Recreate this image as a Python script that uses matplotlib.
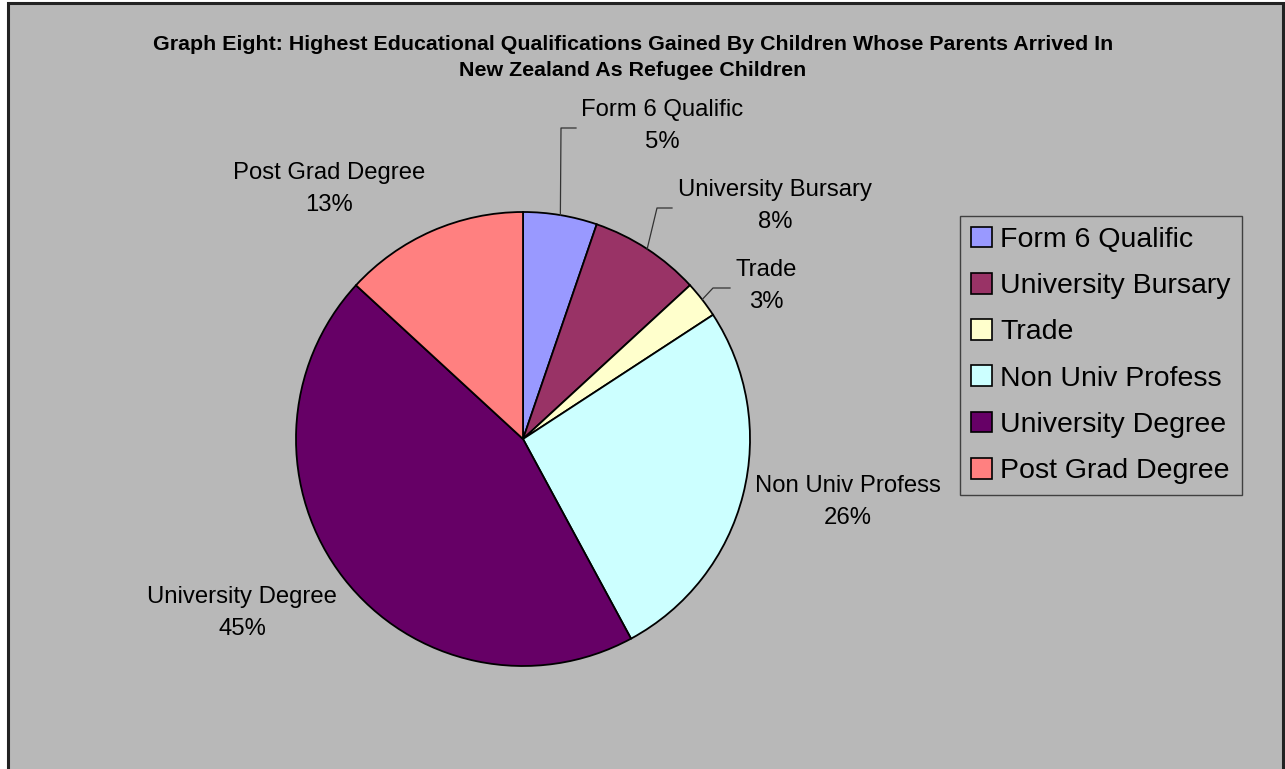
import numpy as np
import matplotlib.pyplot as plt
from matplotlib.patches import Patch, Rectangle

plt.rcParams['font.family'] = ['Liberation Sans', 'DejaVu Sans']

# qualification counts (clockwise from 12 o'clock)
categories = ['Form 6 Qualific', 'University Bursary', 'Trade',
              'Non Univ Profess', 'University Degree', 'Post Grad Degree']
counts = [2, 3, 1, 10, 17, 5]
colors = ['#9999FF', '#993366', '#FFFFCC', '#CCFFFF', '#660066', '#FF8080']

title_lines = ['Graph Eight: Highest Educational Qualifications Gained By Children Whose Parents Arrived In',
               'New Zealand As Refugee Children']

W, H = 1285, 769
BG = '#b8b8b8'
cx, cy, r = 523, 439, 227

# label centres in pixels (name line, percent line below)
label_pos = [(662, 110), (775, 190), (766, 270), (848, 486), (242, 597), (329, 173)]
# leader elbows for the small slices: (elbow, end)
leaders = {0: ((561, 128), (576, 128)),
           1: ((657, 208), (672, 208)),
           2: ((713, 288), (730, 288))}


def fx(x):
    return x / W


def fy(y):
    return 1 - y / H


fig = plt.figure(figsize=(W / 100, H / 100), dpi=100)
fig.patch.set_facecolor('white')
fig.patches.append(Rectangle((fx(8), -0.02), fx(1283) - fx(8), fy(3) + 0.02,
                             transform=fig.transFigure, facecolor=BG,
                             edgecolor='#222222', linewidth=2.2, zorder=-5))

for i, line in enumerate(title_lines):
    fig.text(fx(633), fy(45 + 25 * i), line, ha='center', va='center',
             fontsize=15.4, fontweight='bold', color='black')

ax = fig.add_axes([fx(cx - r), fy(cy + r), 2 * r / W, 2 * r / H])
ax.pie(counts, colors=colors, startangle=90, counterclock=False, radius=1,
       wedgeprops=dict(edgecolor='black', linewidth=1.3))
ax.set_xlim(-1, 1)
ax.set_ylim(-1, 1)
ax.axis('off')

total = sum(counts)
cum = np.cumsum(counts)
for i, (name, c) in enumerate(zip(categories, counts)):
    pct = round(100 * c / total)
    lx, ly = label_pos[i]
    fig.text(fx(lx), fy(ly), name, ha='center', va='center', fontsize=17.2)
    fig.text(fx(lx), fy(ly + 32), f'{pct}%', ha='center', va='center', fontsize=17.2)
    if i in leaders:
        a = np.deg2rad(360 * (cum[i] - c / 2) / total)
        (ex, ey), (tx, ty) = leaders[i]
        xs = [np.sin(a), (ex - cx) / r, (tx - cx) / r]
        ys = [np.cos(a), (cy - ey) / r, (cy - ty) / r]
        ax.plot(xs, ys, color='#333333', linewidth=0.9, clip_on=False)

handles = [Patch(facecolor=col, edgecolor='black', linewidth=1.2) for col in colors]
leg = fig.legend(handles, categories, loc='upper left',
                 bbox_to_anchor=(fx(960), fy(216)), borderaxespad=0,
                 fontsize=20.5, frameon=True, fancybox=False, facecolor=BG,
                 edgecolor='#404040', framealpha=1, handlelength=0.74,
                 handleheight=0.74, handletextpad=0.3, labelspacing=0.70,
                 borderpad=0.38)
leg.get_frame().set_linewidth(1.0)

fig.savefig('out.png', dpi=100, facecolor=fig.get_facecolor())
